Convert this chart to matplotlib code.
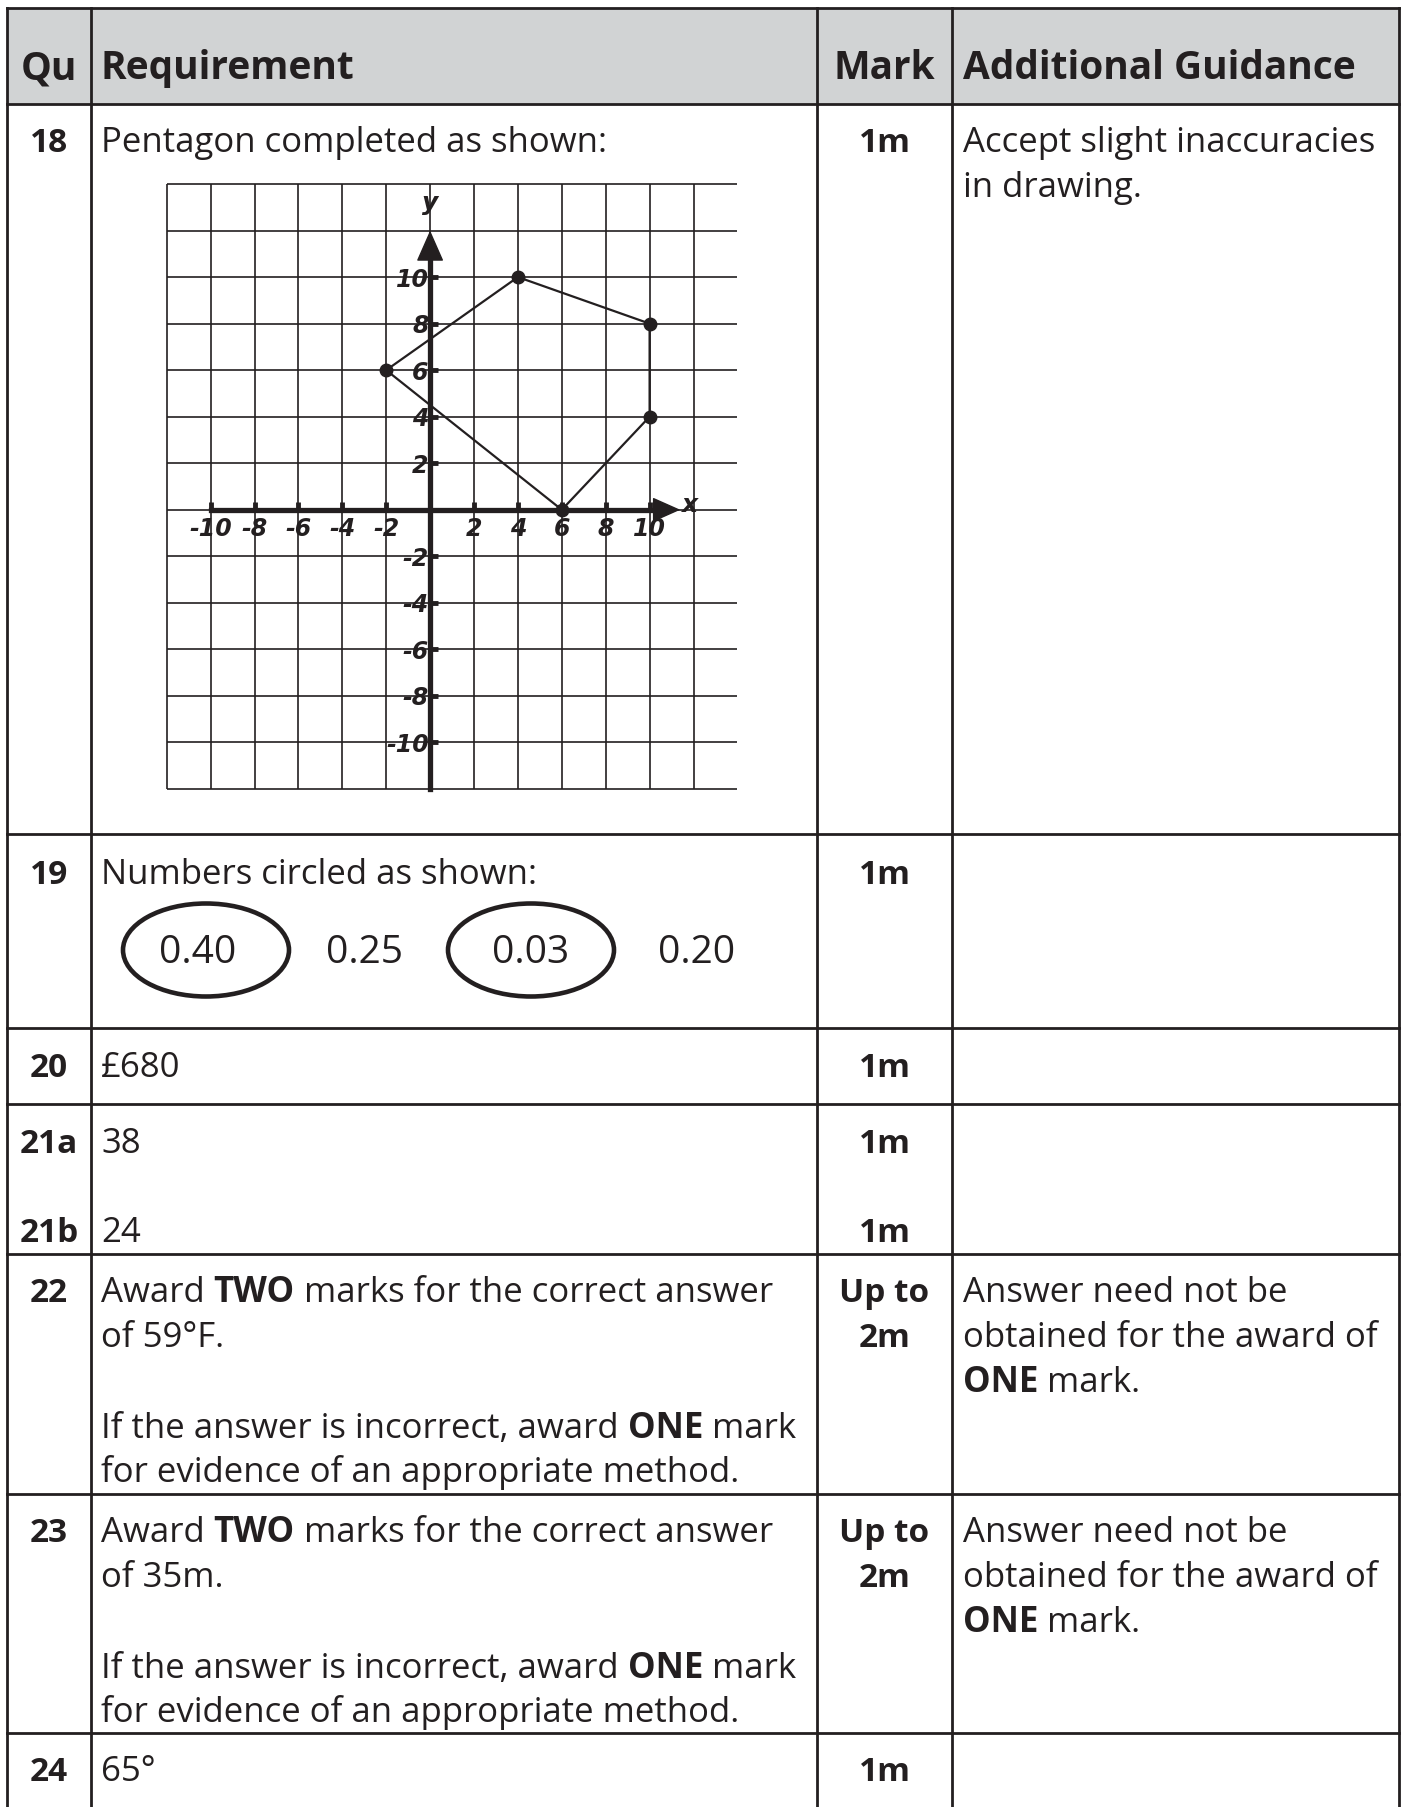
import matplotlib
matplotlib.use("Agg")
import matplotlib.pyplot as plt
from matplotlib.patches import Rectangle, Ellipse

plt.rcParams['font.family'] = ['Open Sans', 'DejaVu Sans']

INK = '#231f20'
HEAD_BG = '#d1d3d4'

# --- table content ---
headers = ["Qu", "Requirement", "Mark", "Additional Guidance"]
questions = ["18", "19", "20", "21a", "21b", "22", "23", "24"]
marks = ["1m", "1m", "1m", "1m", "1m", "Up to\n2m", "Up to\n2m", "1m"]

# Q19 numbers and which ones are circled
numbers = ["0.40", "0.25", "0.03", "0.20"]
circled = [True, False, True, False]

# Q18 pentagon vertices
px = [-2, 4, 10, 10, 6]
py = [6, 10, 8, 4, 0]
ticks = [-10, -8, -6, -4, -2, 2, 4, 6, 8, 10]
grid_x = list(range(-12, 13, 2))
grid_y = list(range(-12, 15, 2))

# --- layout (pixels) ---
W, H = 1405, 1807
cols = [7, 91, 817, 952, 1399]
rows = [8, 104, 834, 1028, 1104, 1254, 1494, 1733, 1807]

fig = plt.figure(figsize=(W / 100, H / 100), dpi=100)
tab = fig.add_axes([0, 0, 1, 1])
tab.set_xlim(0, W)
tab.set_ylim(H, 0)
tab.axis('off')

tab.add_patch(Rectangle((cols[0], rows[0]), cols[-1] - cols[0], rows[1] - rows[0],
                        facecolor=HEAD_BG, edgecolor='none'))
for y in rows[:-1]:
    tab.plot([cols[0], cols[-1]], [y, y], color=INK, lw=2)
for x in cols:
    tab.plot([x, x], [rows[0], rows[-1]], color=INK, lw=2)

renderer = fig.canvas.get_renderer()
FS = 25
FSB = 24


def seg_width(s, weight):
    t1 = tab.text(0, 0, s + "|", fontsize=FS, fontweight=weight)
    t2 = tab.text(0, 0, "|", fontsize=FS, fontweight=weight)
    w = t1.get_window_extent(renderer).width - t2.get_window_extent(renderer).width
    t1.remove()
    t2.remove()
    return w


def rich(x, y, parts):
    for s, weight in parts:
        tab.text(x, y, s, fontsize=FS, fontweight=weight, color=INK, va='baseline')
        x += seg_width(s, weight)


def body(x, y, s, **kw):
    tab.text(x, y, s, fontsize=FS, color=INK, va='baseline', **kw)


# header
hb = 79
tab.text((cols[0] + cols[1]) / 2, hb, headers[0], fontsize=28, fontweight='bold', color=INK, ha='center', va='baseline')
tab.text(cols[1] + 10, hb, headers[1], fontsize=28, fontweight='bold', color=INK, va='baseline')
tab.text((cols[2] + cols[3]) / 2, hb, headers[2], fontsize=28, fontweight='bold', color=INK, ha='center', va='baseline')
tab.text(cols[3] + 11, hb, headers[3], fontsize=28, fontweight='bold', color=INK, va='baseline')

# question numbers and marks
q_base = [152, 884, 1077, 1153, 1242, 1302, 1542, 1781]
qc = (cols[0] + cols[1]) / 2
mc = (cols[2] + cols[3]) / 2
for q, m, yb in zip(questions, marks, q_base):
    tab.text(qc, yb, q, fontsize=FSB, fontweight='bold', color=INK, ha='center', va='baseline')
    for k, line in enumerate(m.split("\n")):
        tab.text(mc, yb + 45 * k, line, fontsize=FSB, fontweight='bold', color=INK, ha='center', va='baseline')

rx = cols[1] + 10
gx = cols[3] + 11

# requirement column
body(rx, 152, "Pentagon completed as shown:")
body(rx, 884, "Numbers circled as shown:")
num_x = [198, 364, 531, 697]
ring_x = [206, None, 531, None]
for s, c, x, ex in zip(numbers, circled, num_x, ring_x):
    tab.text(x, 963, s, fontsize=28, color=INK, ha='center', va='baseline')
    if c:
        tab.add_patch(Ellipse((ex, 950), 166, 93, facecolor='none', edgecolor=INK, lw=3.3))
body(rx, 1077, "£680")
body(rx, 1153, "38")
body(rx, 1242, "24")
for yb, ans in [(1302, "59°F."), (1542, "35m.")]:
    rich(rx, yb, [("Award ", 'normal'), ("TWO", 'bold'), (" marks for the correct answer", 'normal')])
    body(rx, yb + 45, "of " + ans)
    rich(rx, yb + 136, [("If the answer is incorrect, award ", 'normal'), ("ONE", 'bold'), (" mark", 'normal')])
    body(rx, yb + 180, "for evidence of an appropriate method.")
    # guidance
    body(gx, yb, "Answer need not be")
    body(gx, yb + 45, "obtained for the award of")
    rich(gx, yb + 90, [("ONE", 'bold'), (" mark.", 'normal')])
body(rx, 1781, "65°")

body(gx, 152, "Accept slight inaccuracies")
body(gx, 197, "in drawing.")

# --- coordinate grid for Q18 ---
gl, gr, gt, gbm = 166.7, 737.4, 184, 789
ax = fig.add_axes([gl / W, 1 - gbm / H, (gr - gl) / W, (gbm - gt) / H])
ax.set_xlim(-12, 14)
ax.set_ylim(-12, 14)
ax.patch.set_alpha(0)
ax.vlines(grid_x, -12, 14, color=INK, lw=1.2, clip_on=False, zorder=1)
ax.hlines(grid_y, -12, 14, color=INK, lw=1.2, clip_on=False, zorder=1)

for side in ['top', 'right']:
    ax.spines[side].set_visible(False)
ax.spines['left'].set_position('zero')
ax.spines['bottom'].set_position('zero')
ax.spines['left'].set_bounds(-12, 10.9)
ax.spines['bottom'].set_bounds(-10, 10.4)
for side in ['left', 'bottom']:
    ax.spines[side].set_linewidth(3.8)
    ax.spines[side].set_color(INK)
    ax.spines[side].set_zorder(3)

ax.tick_params(axis='both', direction='in', length=5.5, width=3.5, color=INK, labelcolor=INK)
ax.tick_params(axis='x', pad=5)
ax.tick_params(axis='y', pad=1)
ax.set_xticks(ticks)
ax.set_yticks(ticks)
tfont = dict(family='DejaVu Sans', style='oblique', weight='bold', size=17)
ax.set_xticklabels([str(t) for t in ticks], fontdict=tfont)
ax.set_yticklabels([str(t) for t in ticks], fontdict=tfont)

ax.annotate('', xy=(0, 12), xytext=(0, 10.7),
            arrowprops=dict(arrowstyle='-|>,head_length=0.5,head_width=0.22', mutation_scale=40,
                            lw=1, color=INK, shrinkA=0, shrinkB=0), zorder=4)
ax.annotate('', xy=(11.4, 0), xytext=(10.2, 0),
            arrowprops=dict(arrowstyle='-|>,head_length=0.45,head_width=0.2', mutation_scale=40,
                            lw=1, color=INK, shrinkA=0, shrinkB=0), zorder=4)
ax.text(0, 13.2, "y", fontdict=dict(tfont, size=18), color=INK, ha='center', va='center')
ax.text(11.8, 0.2, "x", fontdict=dict(tfont, size=18), color=INK, ha='center', va='center')

ax.plot(px + [px[0]], py + [py[0]], color=INK, lw=1.6, zorder=5, clip_on=False)
ax.plot(px, py, 'o', color=INK, ms=9, zorder=6, clip_on=False)

fig.savefig("out.png", dpi=100)
